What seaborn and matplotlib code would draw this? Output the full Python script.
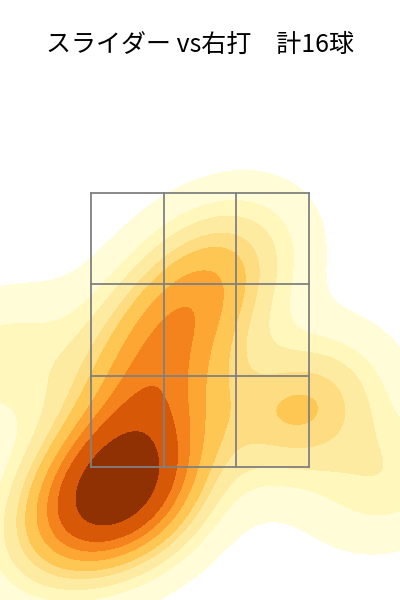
import matplotlib
matplotlib.use("Agg")
import matplotlib.pyplot as plt
import numpy as np
import pandas as pd
import seaborn as sns

# pitch locations (cm): horizontal from plate centre, height above ground
plate_x = [-18.8, -14.9, -19.8, -15.9, -12.9, -9.9, -10.9, -8.3,
           -5.9, 0.0, 20.8, 19.8, -39.6, 37.7, 5.9, -27.7]
plate_z = [43.4, 39.4, 37.4, 44.4, 36.4, 52.4, 59.5, 66.5,
           74.5, 80.5, 59.4, 54.4, 66.5, 42.4, 88.6, 30.3]

zone_left, zone_right = -21.6, 21.6
zone_bottom, zone_top = 45.0, 100.0

df = pd.DataFrame({"x": plate_x, "z": plate_z})

fig = plt.figure(figsize=(4, 6), dpi=100)
ax = fig.add_axes([0, 0, 1, 1])

sns.kdeplot(data=df, x="x", y="z", fill=True, cmap="YlOrBr", levels=10,
            thresh=0.05, bw_adjust=0.9, ax=ax)

xs = np.linspace(zone_left, zone_right, 4)
zs = np.linspace(zone_bottom, zone_top, 4)
for xv in xs:
    ax.plot([xv, xv], [zone_bottom, zone_top], color="gray", lw=1.3)
for zv in zs:
    ax.plot([zone_left, zone_right], [zv, zv], color="gray", lw=1.3)

ax.set_xlim(-39.63, 39.63)
ax.set_ylim(18.3, 138.74)
ax.axis("off")

fig.text(0.5, 0.925, "スライダー vs右打　計16球", ha="center", va="center",
         fontsize=18, family=["Noto Sans CJK JP", "DejaVu Sans"])

fig.savefig("out.png", dpi=100)
